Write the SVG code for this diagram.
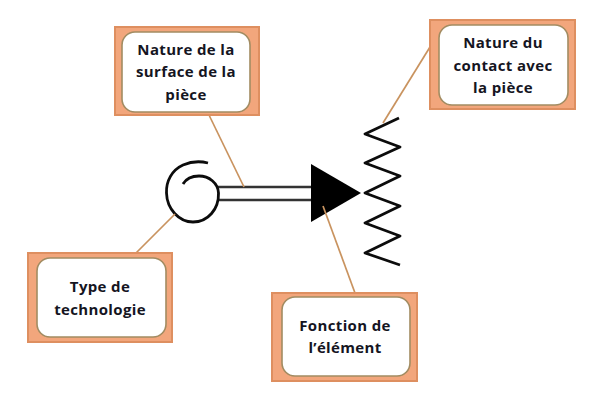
<svg xmlns="http://www.w3.org/2000/svg" width="604" height="405" viewBox="0 0 604 405">
<style>
.outer{fill:#f2a67c;stroke:#de8f60;stroke-width:2}
.inner{fill:#fff;stroke:#a28c62;stroke-width:1.6}
.t{font-family:"Open Sans",sans-serif;font-weight:700;font-size:15px;fill:#15151f;text-anchor:middle;letter-spacing:.35px}
.c{fill:none;stroke:#c9935f;stroke-width:1.7}
.k{fill:none;stroke:#0c0c0c;stroke-width:2.8}
.d{fill:none;stroke:#333;stroke-width:2.6}
</style>
<rect width="604" height="405" fill="#fff"/>
<g id="symbol">
<path class="d" d="M218 187H311M218 200H311"/>
<path class="k" d="M208 163C200 161 190 162 183 165C172 170 166 181 166.500 193C167 209 179 222 193 222C208 222 219 209 218.500 193C218 183 209 176 199 176C192 176 186 179 183 184"/>
<polygon points="311,164 361,193 311,222" fill="#000"/>
<polyline class="k" stroke-linejoin="round" points="399,118 365,134 400,147 365,163 400,176 365,193 400,206 365,223 400,236 365,253 400,265"/>
</g>
<g id="connectors">
<path class="c" d="M209 115L244 187"/>
<path class="c" d="M430 47L383 123"/>
<path class="c" d="M136 253L175 214"/>
<path class="c" d="M323 206L355 293"/>
</g>
<g id="node-surface">
<rect class="outer" x="115" y="27" width="144" height="88"/>
<rect class="inner" x="122" y="32" width="128" height="80" rx="13"/>
<text class="t" x="186" y="55">Nature de la</text>
<text class="t" x="186" y="77">surface de la</text>
<text class="t" x="186" y="100">pièce</text>
</g>
<g id="node-contact">
<rect class="outer" x="430" y="20" width="145" height="89"/>
<rect class="inner" x="439" y="25" width="129" height="80" rx="13"/>
<text class="t" x="503" y="48">Nature du</text>
<text class="t" x="503" y="71">contact avec</text>
<text class="t" x="503" y="93">la pièce</text>
</g>
<g id="node-techno">
<rect class="outer" x="28" y="253" width="144" height="89"/>
<rect class="inner" x="37" y="258" width="129" height="79" rx="13"/>
<text class="t" x="100" y="292">Type de</text>
<text class="t" x="100" y="315">technologie</text>
</g>
<g id="node-fonction">
<rect class="outer" x="272" y="293" width="145" height="88"/>
<rect class="inner" x="282" y="297" width="128" height="79" rx="13"/>
<text class="t" x="345" y="331">Fonction de</text>
<text class="t" x="345" y="353">l’élément</text>
</g>
</svg>
